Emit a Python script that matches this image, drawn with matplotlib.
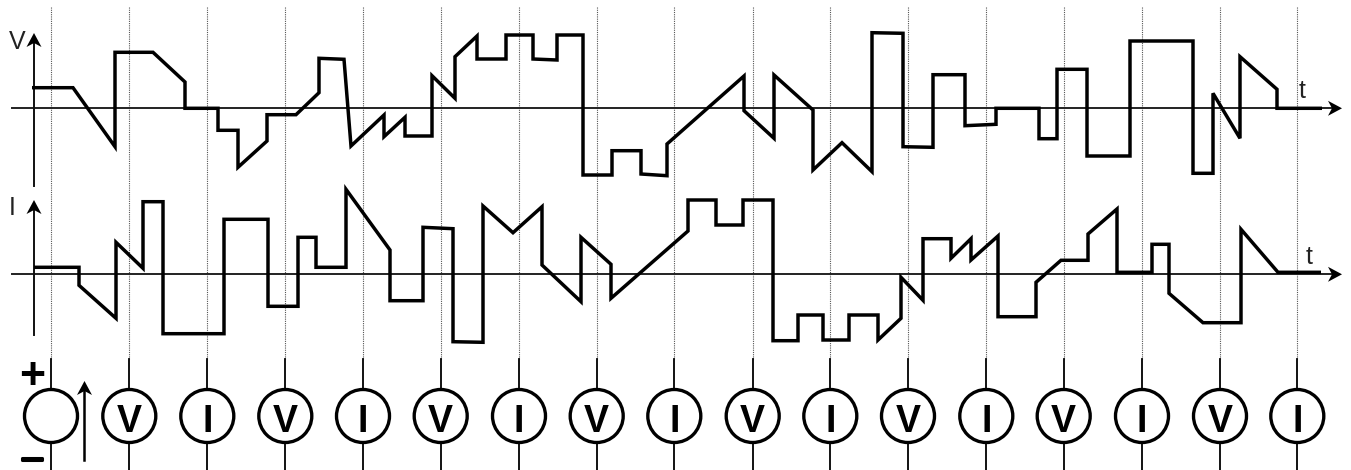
import matplotlib
matplotlib.use("Agg")
import matplotlib.pyplot as plt
import matplotlib.patheffects as pe
from matplotlib.patches import Circle, Polygon

plt.rcParams['font.family'] = ['Liberation Sans', 'DejaVu Sans']

# time / level pairs (level is height above the t axis)
v_time = [32, 73, 115, 115, 153, 185, 185, 218, 218, 238, 238, 267, 267, 296, 319, 319, 344, 351, 384, 384,
          405, 405, 432, 432, 455, 455, 477, 477, 506, 506, 533, 533, 557, 557, 583, 583, 612, 612, 641, 641,
          667, 667, 744, 744, 774, 774, 813, 813, 842, 872, 872, 903, 903, 933, 933, 965, 965, 996, 996, 1039,
          1039, 1057, 1057, 1087, 1087, 1130, 1130, 1193, 1193, 1213, 1213, 1240, 1240, 1277, 1277, 1322]
v_level = [20.6, 20.6, -38.4, 56, 56, 26.3, 0, 0, -22, -22, -59, -32.7, -6.4, -6.4, 15.6, 50, 49, -37.7, -6.7, -28.4,
           -9, -27.7, -27.7, 32.6, 10, 51.6, 72.3, 49.3, 49.3, 73.3, 73.3, 49.3, 48.3, 73.3, 73.3, -66.7, -66.7, -42.4, -42.4, -65.7,
           -67.4, -35.7, 32.3, -2.4, -30, 33.3, -1.7, -61.7, -34.4, -63.4, 75.6, 75, -38.4, -39, 33.6, 33.6, -17.4, -16, 0, 0,
           -30.4, -30.4, 39, 39, -47.7, -47.7, 67.3, 67.3, -65, -65, 15, -30, 51.6, 19, 0, 0]

i_time = [34, 79, 79, 116, 116, 143, 143, 163, 163, 224, 224, 268, 268, 298, 298, 316, 316, 346, 346, 390,
          390, 423, 423, 453, 453, 483, 483, 513, 542, 542, 581, 581, 611, 611, 688, 688, 716, 716, 743, 743,
          773, 773, 798, 798, 823, 823, 849, 849, 878, 878, 901, 901, 923, 923, 951, 951, 971, 971, 998, 998,
          1036, 1036, 1061, 1088, 1088, 1117, 1117, 1152, 1152, 1169, 1169, 1203, 1241, 1241, 1278, 1321]
i_level = [7, 7, -11, -44, 32, 6, 72.6, 72.6, -59.4, -59.4, 55, 55, -32, -32, 37, 37, 7, 7, 85, 24.3,
           -26.4, -26.4, 47, 45.6, -67.4, -68, 68.3, 41.6, 67.6, 9.3, -27.4, 37, 10, -24, 43.3, 74.3, 74.3, 49.3, 49.3, 74.3,
           74.3, -66.4, -66.4, -40.7, -40.7, -65.7, -65.7, -40.7, -40.7, -65.7, -44, -3, -26, 35.6, 35.6, 16, 35.6, 14.3, 38.3, -42.4,
           -42.4, -8, 14, 14, 40.3, 65.3, 2, 2, 30, 30, -19, -48.4, -48.4, 45, 2, 2]

probe_x = [51, 129.3, 207.3, 285.3, 363, 440.7, 519, 596.7, 674.3, 752.7, 830.3, 908, 986.3, 1063.7, 1142, 1220, 1297.3]
probe_labels = ['', 'V', 'I', 'V', 'I', 'V', 'I', 'V', 'I', 'V', 'I', 'V', 'I', 'V', 'I', 'V', 'I']

v_zero = 108.3
i_zero = 274.3
circle_y = 416
circle_r = 26.5

fig = plt.figure(figsize=(13.51, 4.7), dpi=100)
ax = fig.add_axes([0, 0, 1, 1])
ax.set_xlim(0, 1351)
ax.set_ylim(470, 0)
ax.axis('off')


def arrow_head(x, y, dx, dy):
    # stealth style head with its tip at x, y pointing along dx, dy
    nx, ny = -dy, dx
    pts = [(x, y),
           (x - 14 * dx + 7.5 * nx, y - 14 * dy + 7.5 * ny),
           (x - 10 * dx, y - 10 * dy),
           (x - 14 * dx - 7.5 * nx, y - 14 * dy - 7.5 * ny)]
    ax.add_patch(Polygon(pts, closed=True, color='black', lw=0, zorder=5))


# dotted guides and the solid leads of each probe
for x, label in zip(probe_x, probe_labels):
    ax.plot([x, x], [7, 359], color='#555555', lw=0.8, ls=(0, (1, 1)), zorder=1)
    ax.plot([x, x], [359, circle_y - circle_r], color='black', lw=1.3, zorder=2)
    ax.plot([x, x], [circle_y + circle_r, 470], color='black', lw=1.3, zorder=2)
    ax.add_patch(Circle((x, circle_y), circle_r, fc='white', ec='black', lw=2.4, zorder=3))
    if label:
        ax.text(x, circle_y + 2, label, fontsize=27, fontweight='bold', ha='center', va='center_baseline', zorder=4)

# axes of the two traces
for zero, top, bottom in [(v_zero, 36, 186), (i_zero, 203, 335)]:
    ax.plot([11.5, 1335], [zero, zero], color='#222222', lw=1.4, zorder=2)
    ax.plot([34, 34], [top, bottom], color='#111111', lw=1.4, zorder=2)
    arrow_head(1342, zero, 1, 0)
    arrow_head(34, top - 3, 0, -1)

ax.plot(v_time, [v_zero - v for v in v_level], color='black', lw=2.5, solid_joinstyle='miter', solid_capstyle='butt', zorder=4)
ax.plot(i_time, [i_zero - v for v in i_level], color='black', lw=2.5, solid_joinstyle='miter', solid_capstyle='butt', zorder=4)

ax.text(17, 49, 'V', fontsize=18, ha='center', va='baseline', color='#222222')
ax.text(12, 215, 'I', fontsize=18, ha='center', va='baseline', color='#222222')
ax.text(1302, 98, 't', fontsize=18, ha='center', va='baseline', color='#222222')
ax.text(1309.5, 264, 't', fontsize=18, ha='center', va='baseline', color='#222222')

# source polarity and the current arrow next to it
ax.text(32, 373, '+', fontsize=32, fontweight='bold', ha='center', va='center_baseline')
ax.text(32, 465, '\u2014', fontsize=15, fontweight='bold', ha='center', va='baseline',
        path_effects=[pe.withStroke(linewidth=2.2, foreground='black')])
ax.plot([84, 84], [460, 390], color='black', lw=1.8, zorder=2)
arrow_head(84.5, 381, 0, -1)

fig.savefig('out.png', dpi=100)
